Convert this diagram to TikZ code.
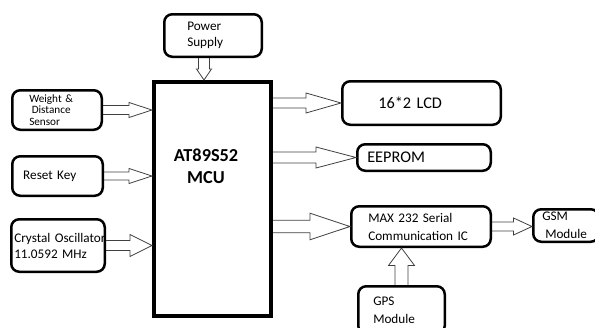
\documentclass[tikz,border=0pt]{standalone}
\usepackage{fontspec}
\setmainfont{Carlito}
\usetikzlibrary{calc}

\tikzset{
    blk/.style={draw, rounded corners=8pt, line width=2.5pt, align=left, inner ysep=1pt,
        font=\fontsize{13.2}{16}\selectfont},
    fat/.style={draw=black!75, line width=0.8pt, line join=miter},
}

% hollow block arrow: from, to, shaft half width, head half width, head length
\newcommand{\blockarrow}[5]{%
    \coordinate (hb) at ($(#2)!#5!(#1)$);
    \draw[fat] ($(#1)!#3!90:(#2)$) -- ($(hb)!#3!90:(#2)$) -- ($(hb)!#4!90:(#2)$) -- (#2)
        -- ($(hb)!#4!-90:(#2)$) -- ($(hb)!#3!-90:(#2)$) -- ($(#1)!#3!-90:(#2)$);
}

\begin{document}
\begin{tikzpicture}[x=1pt, y=-1pt]

            \useasboundingbox (0,0) rectangle (595,327);

            %controller
            \node[draw, line width=4pt, minimum width=117pt, minimum height=234pt] (mcu) at (212.5,199) {};
            \node[font=\bfseries\fontsize{18.3}{22}\selectfont, align=center] (mcutxt) at (206,166) {AT89S52\\MCU};

            %supply
            \node[blk, minimum width=97.5pt, minimum height=42.5pt, text width=51.5pt, inner xsep=23pt] (power) at (213,35.5) {Power\\Supply};
            \coordinate (pwr) at ($(power.south)+(-9,0)$);

            %inputs
            \node[blk, font=\fontsize{11.2}{11.5}\selectfont, minimum width=89.5pt, minimum height=39.5pt, text width=55.5pt, inner xsep=17pt] (weight) at (57,110) {Weight \&\\\hspace*{2.5pt}Distance\\Sensor};
            \node[blk, minimum width=90.5pt, minimum height=39.5pt, text width=68.5pt, inner xsep=11pt] (reset) at (57.5,176) {Reset Key};
            \node[blk, minimum width=93.5pt, minimum height=52.5pt, text width=87.5pt, inner xsep=3pt] (xtal) at (58,245.5) {\mbox{Crystal Oscillator}\\11.0592 MHz};

            %outputs
            \node[blk, font=\fontsize{16.3}{19}\selectfont, minimum width=158.5pt, minimum height=43.5pt, text width=86.5pt, inner xsep=36pt] (lcd) at (421.5,103) {16*2 LCD};
            \node[blk, font=\fontsize{16.3}{19}\selectfont, minimum width=133.5pt, minimum height=26.5pt, text width=113.5pt, inner xsep=10pt] (eeprom) at (424,157.5) {EEPROM};
            \node[blk, font=\fontsize{13.2}{18}\selectfont, minimum width=139.5pt, minimum height=40.5pt, text width=105.5pt, inner xsep=17pt] (max) at (421,226.5) {MAX 232 Serial\\\mbox{Communication IC}};
            \node[blk, font=\fontsize{13.2}{18}\selectfont, minimum width=65.5pt, minimum height=32.5pt, text width=47.5pt, inner xsep=9pt] (gsm) at (566,225.5) {GSM\\\hspace*{3pt}Module};
            \node[blk, font=\fontsize{13.2}{18}\selectfont, minimum width=86.5pt, minimum height=47.5pt, text width=56.5pt, inner xsep=15pt] (gps) at (401.5,310) {GPS\\Module};

            %arrows into the controller
            \blockarrow{pwr}{pwr |- mcu.north}{5.5pt}{7.5pt}{11pt}
            \blockarrow{weight.east}{weight.east -| mcu.west}{4.5pt}{7.5pt}{23pt}
            \blockarrow{reset.east}{reset.east -| mcu.west}{4pt}{7.5pt}{23pt}
            \blockarrow{xtal.east}{xtal.east -| mcu.west}{5pt}{11pt}{22pt}

            %arrows out of the controller
            \blockarrow{mcu.east |- lcd.west}{lcd.west}{5pt}{10pt}{35pt}
            \blockarrow{mcu.east |- eeprom.west}{eeprom.west}{5.5pt}{10.5pt}{40pt}
            \blockarrow{mcu.east |- max.west}{max.west}{6.3pt}{13.3pt}{40pt}
            \blockarrow{max.east}{max.east -| gsm.west}{4.5pt}{8.5pt}{18.5pt}
            \blockarrow{gps.north}{gps.north |- max.south}{6.5pt}{13pt}{17.5pt}

\end{tikzpicture}
\end{document}
